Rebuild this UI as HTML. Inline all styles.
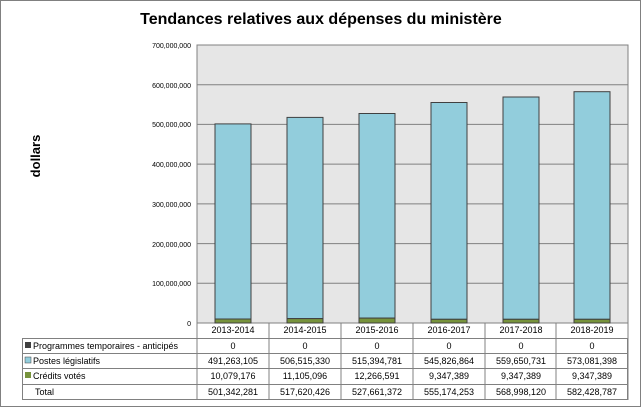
<!DOCTYPE html><html><head><style>body{margin:0;background:#fff}svg text{font-family:"Liberation Sans",sans-serif}</style></head><body>
<svg width="642" height="408" xmlns="http://www.w3.org/2000/svg">
<rect x="0.5" y="0.5" width="640" height="406" fill="#fff" stroke="#808080"/>
<text x="321" y="24" font-size="16" font-weight="bold" text-anchor="middle">Tendances relatives aux dépenses du ministère</text>
<text transform="translate(40,156) rotate(-90)" font-size="13" font-weight="bold" text-anchor="middle">dollars</text>
<rect x="197" y="45" width="431" height="278" fill="#e6e6e6" stroke="#808080"/>
<g stroke="#808080">
<line x1="197" y1="84.7" x2="628" y2="84.7"/><line x1="197" y1="124.4" x2="628" y2="124.4"/><line x1="197" y1="164.1" x2="628" y2="164.1"/><line x1="197" y1="203.9" x2="628" y2="203.9"/><line x1="197" y1="243.6" x2="628" y2="243.6"/><line x1="197" y1="283.3" x2="628" y2="283.3"/>
</g>
<g font-size="7" text-anchor="end" fill="#000">
<text x="191" y="48">700,000,000</text><text x="191" y="88">600,000,000</text><text x="191" y="127">500,000,000</text><text x="191" y="167">400,000,000</text><text x="191" y="207">300,000,000</text><text x="191" y="247">200,000,000</text><text x="191" y="286">100,000,000</text><text x="191" y="326">0</text>
</g>
<g stroke="#404040" stroke-width="1">
<rect x="215" y="123.9" width="36" height="195.1" fill="#92cddc"/><rect x="215" y="319" width="36" height="4" fill="#77933c"/>
<rect x="287" y="117.4" width="36" height="201.2" fill="#92cddc"/><rect x="287" y="318.6" width="36" height="4.4" fill="#77933c"/>
<rect x="359" y="113.5" width="36" height="204.6" fill="#92cddc"/><rect x="359" y="318.1" width="36" height="4.9" fill="#77933c"/>
<rect x="431" y="102.5" width="36" height="216.8" fill="#92cddc"/><rect x="431" y="319.3" width="36" height="3.7" fill="#77933c"/>
<rect x="503" y="97" width="36" height="222.3" fill="#92cddc"/><rect x="503" y="319.3" width="36" height="3.7" fill="#77933c"/>
<rect x="574" y="91.7" width="36" height="227.6" fill="#92cddc"/><rect x="574" y="319.3" width="36" height="3.7" fill="#77933c"/>
</g>
<g stroke="#808080" fill="none">
<rect x="22.5" y="338.5" width="605" height="61"/>
<line x1="197" y1="323" x2="197" y2="400"/><line x1="269" y1="323" x2="269" y2="400"/><line x1="341" y1="323" x2="341" y2="400"/><line x1="413" y1="323" x2="413" y2="400"/><line x1="485" y1="323" x2="485" y2="400"/><line x1="556" y1="323" x2="556" y2="400"/><line x1="628" y1="323" x2="628" y2="400"/>
<line x1="22" y1="353.5" x2="628" y2="353.5"/><line x1="22" y1="368.5" x2="628" y2="368.5"/><line x1="22" y1="384.5" x2="628" y2="384.5"/>
</g>
<rect x="25" y="342" width="6" height="6" fill="#404040"/>
<rect x="25" y="357" width="6" height="6" fill="#92cddc" stroke="#404040" stroke-width="0.5"/>
<rect x="25" y="372" width="6" height="6" fill="#77933c"/>
<g font-size="9" fill="#000">
<text x="33" y="349">Programmes temporaires - anticipés</text>
<text x="33" y="364">Postes législatifs</text>
<text x="33" y="379">Crédits votés</text>
<text x="35" y="395">Total</text>
</g>
<g font-size="9" text-anchor="middle" fill="#000">
<text x="233" y="333">2013-2014</text><text x="305" y="333">2014-2015</text><text x="377" y="333">2015-2016</text><text x="449" y="333">2016-2017</text><text x="521" y="333">2017-2018</text><text x="592" y="333">2018-2019</text>
<text x="233" y="349">0</text><text x="305" y="349">0</text><text x="377" y="349">0</text><text x="449" y="349">0</text><text x="521" y="349">0</text><text x="592" y="349">0</text>
<text x="233" y="364">491,263,105</text><text x="305" y="364">506,515,330</text><text x="377" y="364">515,394,781</text><text x="449" y="364">545,826,864</text><text x="521" y="364">559,650,731</text><text x="592" y="364">573,081,398</text>
<text x="233" y="379">10,079,176</text><text x="305" y="379">11,105,096</text><text x="377" y="379">12,266,591</text><text x="449" y="379">9,347,389</text><text x="521" y="379">9,347,389</text><text x="592" y="379">9,347,389</text>
<text x="233" y="395">501,342,281</text><text x="305" y="395">517,620,426</text><text x="377" y="395">527,661,372</text><text x="449" y="395">555,174,253</text><text x="521" y="395">568,998,120</text><text x="592" y="395">582,428,787</text>
</g>
</svg></body></html>
